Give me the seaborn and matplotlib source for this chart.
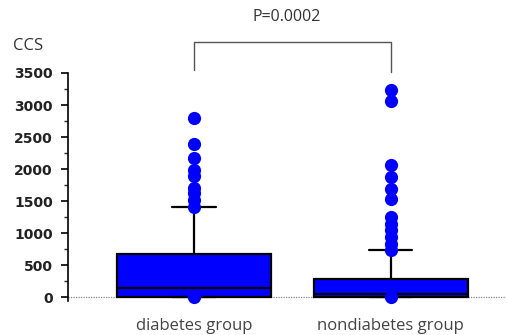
import matplotlib
matplotlib.use("Agg")
import matplotlib.pyplot as plt
from matplotlib.ticker import MultipleLocator
import seaborn as sns
import pandas as pd

categories = ["diabetes group", "nondiabetes group"]
# five-number summaries: whisker low, Q1, median, Q3, whisker high
diabetes_summary = [0, 0, 150, 680, 1400]
nondiabetes_summary = [0, 0, 50, 290, 735]
# individual points drawn beyond the whiskers
diabetes_points = [0, 1410, 1515, 1620, 1710, 1890, 1980, 2170, 2390, 2790]
nondiabetes_points = [0, 735, 830, 940, 1050, 1150, 1250, 1540, 1690, 1880, 2060, 3070, 3230]
y_ticks = [0, 500, 1000, 1500, 2000, 2500, 3000, 3500]
p_label = "P=0.0002"
y_label = "CCS"

box_df = pd.DataFrame({
    "group": [categories[0]] * len(diabetes_summary) + [categories[1]] * len(nondiabetes_summary),
    "CCS": diabetes_summary + nondiabetes_summary,
})
pt_df = pd.DataFrame({
    "group": [categories[0]] * len(diabetes_points) + [categories[1]] * len(nondiabetes_points),
    "CCS": diabetes_points + nondiabetes_points,
})

sns.set_style("white")
plt.rcParams["font.family"] = ["DejaVu Sans"]

fig = plt.figure(figsize=(5.07, 3.35), dpi=100)
ax = fig.add_axes([68 / 507, (335 - 301) / 335, (505 - 68) / 507, 228 / 335])

ax.axhline(0, color="#888888", lw=0.9, ls=(0, (1, 1)), zorder=0)

blue = "#0000ff"
sns.boxplot(data=box_df, x="group", y="CCS", order=categories, ax=ax,
            whis=(0, 100), width=0.78, color=blue, saturation=1,
            linecolor="black", linewidth=1.6, showfliers=False,
            capwidths=0.22, zorder=2)
sns.stripplot(data=pt_df, x="group", y="CCS", order=categories, ax=ax,
              jitter=False, color=blue, size=9.5, linewidth=0, zorder=3,
              clip_on=False)

ax.set_xlim(-0.64, 1.58)
ax.set_ylim(-60, 3500)
ax.set_yticks(y_ticks)
ax.yaxis.set_minor_locator(MultipleLocator(250))
ax.tick_params(axis="y", which="major", direction="out", length=5, width=1.2,
               labelsize=10, colors="black", pad=6, left=True)
ax.tick_params(axis="y", which="minor", direction="out", length=3, width=1.0, left=True)
for lbl in ax.get_yticklabels():
    lbl.set_fontweight("bold")
    lbl.set_color("#222222")
ax.tick_params(axis="x", length=0, labelsize=12, pad=12)
for lbl in ax.get_xticklabels():
    lbl.set_fontfamily("Open Sans")
    lbl.set_color("#444444")
ax.set_xlabel("")
ax.set_ylabel("")

for s in ["top", "right", "bottom"]:
    ax.spines[s].set_visible(False)
ax.spines["left"].set_color("black")
ax.spines["left"].set_linewidth(1.2)

# significance bracket
ax.plot([0, 0, 1, 1], [3550, 3980, 3980, 3520], color="#555555", lw=1.0, clip_on=False)
fig.text(287 / 507, 1 - 17 / 335, p_label, ha="center", va="center", fontsize=11.5,
         color="#333333", family="Open Sans")
fig.text(28 / 507, 1 - 46 / 335, y_label, ha="center", va="center", fontsize=12,
         color="#333333", family="Open Sans")

fig.savefig("out.png", dpi=100)
